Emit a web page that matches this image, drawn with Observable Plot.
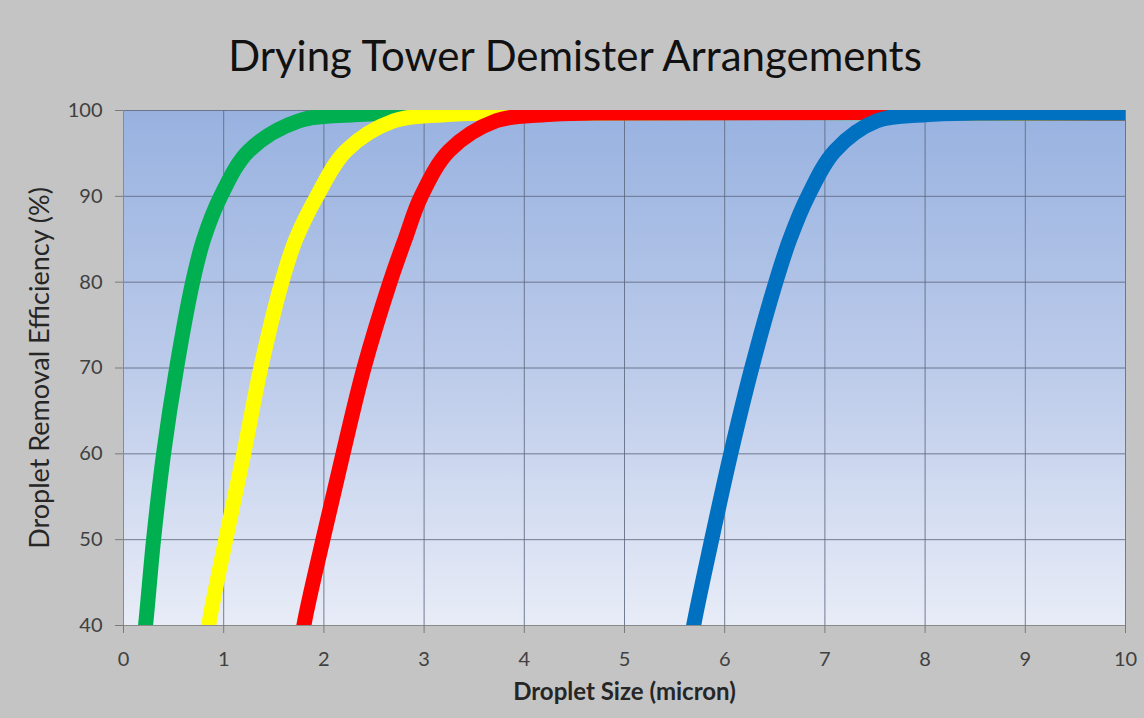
<!DOCTYPE html>
<html>
<head>
<meta charset="utf-8">
<script src="https://cdn.jsdelivr.net/npm/d3@7"></script>
<script src="https://cdn.jsdelivr.net/npm/@observablehq/plot@0.6"></script>
<style>
  html, body { margin: 0; padding: 0; background: #c4c4c4; }
  #wrap { width: 1144px; height: 718px; position: relative; overflow: hidden; background: #c4c4c4; }
  #title { box-sizing: border-box; height: 90px; padding-top: 31px; padding-left: 6px; line-height: 48px;
           text-align: center; font-family: Lato, "Open Sans", sans-serif; font-size: 42px; color: #111; }
</style>
</head>
<body>
<div id="wrap">
  <div id="title">Drying Tower Demister Arrangements</div>
  <div id="chart"></div>
</div>
<script>
// Tick values
const xTicks = [0, 1, 2, 3, 4, 5, 6, 7, 8, 9, 10];
const yTicks = [40, 50, 60, 70, 80, 90, 100];

// Series (droplet size in micron, efficiency in %)
const greenX  = [0.17, 0.22, 0.30, 0.40, 0.53, 0.69, 0.80, 0.97, 1.25, 1.75, 2.30, 3.00, 10];
const greenY  = [35,   40,   50,   60,   70,   80,   85,   90,   95.3, 98.8, 99.5, 99.7, 99.7];
const yellowX = [0.80, 0.85, 1.02, 1.20, 1.37, 1.58, 1.72, 1.93, 2.22, 2.70, 3.20, 3.70, 10];
const yellowY = [35,   40,   50,   60,   70,   80,   85,   90,   95.3, 98.8, 99.5, 99.7, 99.7];
const redX    = [1.74, 1.80, 1.99, 2.19, 2.40, 2.66, 2.81, 2.97, 3.25, 3.72, 4.20, 4.70, 10];
const redY    = [35,   40,   50,   60,   70,   80,   85,   90,   95.3, 98.8, 99.5, 99.7, 99.7];
const blueX   = [5.62, 5.69, 5.87, 6.06, 6.27, 6.51, 6.65, 6.83, 7.10, 7.52, 8.00, 8.50, 10];
const blueY   = [35,   40,   50,   60,   70,   80,   85,   90,   95.3, 98.8, 99.5, 99.7, 99.7];

const seriesNames  = ["Arrangement A", "Arrangement B", "Arrangement C", "Arrangement D"];
const seriesColors = ["#00b050", "#ffff00", "#ff0000", "#0070c0"];
const seriesXs = [greenX, yellowX, redX, blueX];
const seriesYs = [greenY, yellowY, redY, blueY];

const rows = [];
seriesNames.forEach((name, i) => {
  seriesXs[i].forEach((x, j) => rows.push({series: name, x, y: seriesYs[i][j]}));
});

const gridColor = "#5e6880";
const textColor = "#404040";

const plot = Plot.plot({
  width: 1144,
  height: 628,
  marginTop: 20,
  marginBottom: 93,
  marginLeft: 123,
  marginRight: 19,
  style: { background: "transparent", fontFamily: "Lato, 'Open Sans', sans-serif", color: textColor },
  x: { domain: [0, 10] },
  y: { domain: [40, 100] },
  color: { domain: seriesNames, range: seriesColors },
  marks: [
    Plot.frame({ fill: "url(#plotbg)", stroke: "none" }),
    Plot.gridX(xTicks, { stroke: gridColor, strokeOpacity: 0.85, strokeWidth: 1 }),
    Plot.gridY(yTicks, { stroke: gridColor, strokeOpacity: 0.85, strokeWidth: 1 }),
    Plot.ruleX([0], { stroke: "#8a8a8a", strokeWidth: 1 }),
    Plot.ruleY([40], { stroke: "#8a8a8a", strokeWidth: 1 }),
    Plot.axisX(xTicks, { tickSize: 8, tickPadding: 18, fontSize: 20, stroke: "#7a7a7a", fill: textColor, label: null }),
    Plot.axisY(yTicks, { tickSize: 8, tickPadding: 13, fontSize: 20, stroke: "#7a7a7a", fill: textColor, label: null }),
    Plot.line(rows, {
      x: "x", y: "y", z: "series", stroke: "series",
      strokeWidth: 15, curve: "catmull-rom", clip: true, strokeLinejoin: "round", strokeLinecap: "butt"
    }),
    Plot.text(["Droplet Removal Efficiency (%)"], {
      frameAnchor: "left", textAnchor: "middle", rotate: -90, dx: -83, fontSize: 27, fill: "#262626"
    }),
    Plot.text(["Droplet Size (micron)"], {
      frameAnchor: "bottom", dy: 74, fontSize: 24, fontWeight: "bold", fill: "#262626"
    })
  ]
});

plot.insertAdjacentHTML("afterbegin",
  '<defs><linearGradient id="plotbg" x1="0" y1="0" x2="0" y2="1">' +
  '<stop offset="0" stop-color="#98b2e0"/>' +
  '<stop offset="0.5" stop-color="#bccbea"/>' +
  '<stop offset="1" stop-color="#e8ecf7"/>' +
  '</linearGradient></defs>');

document.getElementById("chart").appendChild(plot);
</script>
</body>
</html>
